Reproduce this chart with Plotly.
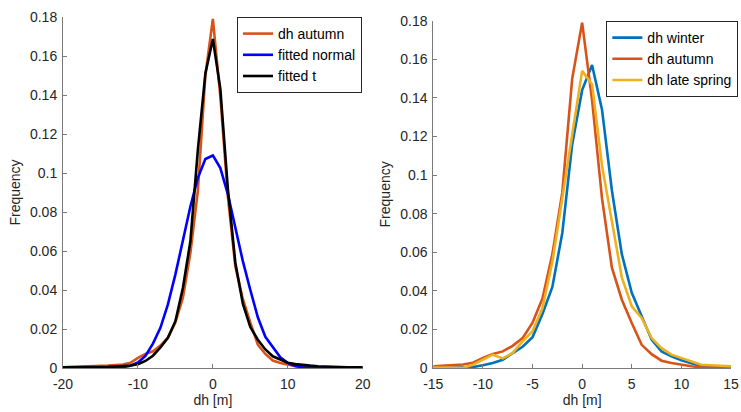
import plotly.graph_objects as go

# ---------------- data ----------------
x_left = list(range(-20, 21))
x_right = list(range(-15, 16))

# autumn histogram (shared by both panels), x = -20..20
autumn = [0.0003, 0.0004, 0.0005, 0.0006, 0.0008, 0.0009, 0.0012, 0.0015, 0.0018, 0.0027,
          0.0052, 0.0072, 0.0086, 0.0115, 0.0155, 0.0235, 0.036, 0.059, 0.091, 0.150,
          0.179,
          0.139, 0.088, 0.052, 0.0354, 0.0233, 0.012, 0.0072, 0.0038, 0.0026, 0.0017,
          0.0009, 0.0004, 0.0003, 0.0002, 0.0001, 0.0001, 0.0001, 0.0001, 0.0001, 0.0001]

# fitted normal, x = -20..20
fitted_normal = [0.0, 0.0, 0.0, 0.0, 0.0, 0.0, 0.0001, 0.0002, 0.0004, 0.0012,
                 0.0028, 0.0062, 0.0125, 0.0206, 0.0326, 0.048, 0.0654, 0.0828, 0.0975, 0.1072,
                 0.109,
                 0.1025, 0.0892, 0.0725, 0.0548, 0.040, 0.026, 0.016, 0.0105, 0.0055, 0.0025,
                 0.001, 0.0004, 0.0001, 0.0, 0.0, 0.0, 0.0, 0.0, 0.0, 0.0]

# fitted t, x = -20..20
fitted_t = [0.0003, 0.0003, 0.0004, 0.0004, 0.0005, 0.0005, 0.0006, 0.0008, 0.001, 0.0013,
            0.0019, 0.0036, 0.0063, 0.0105, 0.0155, 0.024, 0.041, 0.065, 0.112, 0.151,
            0.1687,
            0.143, 0.092, 0.054, 0.033, 0.021, 0.0145, 0.0095, 0.006, 0.0043, 0.0027,
            0.002, 0.0015, 0.0012, 0.0009, 0.0007, 0.0006, 0.0005, 0.0004, 0.0003, 0.0003]

# right panel, x = -15..15
winter = [0.0, 0.0001, 0.0002, 0.0003, 0.0005, 0.0014, 0.0026, 0.0043, 0.0078, 0.011,
          0.016, 0.028, 0.042, 0.070, 0.116, 0.144, 0.157, 0.134, 0.092, 0.059,
          0.039, 0.0267, 0.0147, 0.0086, 0.006, 0.004, 0.0026, 0.0009, 0.0006, 0.0004, 0.0003]
autumn_r = autumn[5:36]
late_spring = [0.0002, 0.0001, 0.0001, 0.0001, 0.0017, 0.0045, 0.0069, 0.005, 0.0078, 0.0138,
               0.019, 0.031, 0.055, 0.088, 0.120, 0.154, 0.147, 0.105, 0.076, 0.047,
               0.032, 0.0259, 0.0155, 0.0103, 0.0069, 0.0052, 0.0034, 0.0017, 0.0014, 0.0011, 0.0009]

y_ticks = [0, 0.02, 0.04, 0.06, 0.08, 0.1, 0.12, 0.14, 0.16, 0.18]
y_tick_text = ["0", "0.02", "0.04", "0.06", "0.08", "0.1", "0.12", "0.14", "0.16", "0.18"]
x_ticks_left = [-20, -10, 0, 10, 20]
x_ticks_right = [-15, -10, -5, 0, 5, 10, 15]

# ---------------- figure ----------------
C_AUT = "#D95319"
C_WIN = "#0072BD"
C_SPR = "#EDB120"
LW = 2.6

fig = go.Figure()
fig.add_trace(go.Scatter(x=x_left, y=autumn, mode="lines", name="dh autumn",
                         line=dict(color=C_AUT, width=LW), xaxis="x", yaxis="y", legend="legend"))
fig.add_trace(go.Scatter(x=x_left, y=fitted_normal, mode="lines", name="fitted normal",
                         line=dict(color="#0000FF", width=LW), xaxis="x", yaxis="y", legend="legend"))
fig.add_trace(go.Scatter(x=x_left, y=fitted_t, mode="lines", name="fitted t",
                         line=dict(color="#000000", width=LW), xaxis="x", yaxis="y", legend="legend"))

fig.add_trace(go.Scatter(x=x_right, y=winter, mode="lines", name="dh winter",
                         line=dict(color=C_WIN, width=LW), xaxis="x2", yaxis="y2", legend="legend2"))
fig.add_trace(go.Scatter(x=x_right, y=autumn_r, mode="lines", name="dh autumn",
                         line=dict(color=C_AUT, width=LW), xaxis="x2", yaxis="y2", legend="legend2"))
fig.add_trace(go.Scatter(x=x_right, y=late_spring, mode="lines", name="dh late spring",
                         line=dict(color=C_SPR, width=LW), xaxis="x2", yaxis="y2", legend="legend2"))

FONT = "Liberation Sans, Arial, Helvetica, sans-serif"
TXT = "#262626"
AX = "#7a7a7a"

common_x = dict(showline=True, linecolor=AX, linewidth=1, ticks="inside", ticklen=4,
                tickcolor=AX, showgrid=False, zeroline=False, mirror=False, automargin=False,
                ticklabelstandoff=3,
                tickfont=dict(size=14, color=TXT, family=FONT),
                title=dict(text="dh [m]", font=dict(size=14, color=TXT, family=FONT), standoff=1))
common_y = dict(showline=True, linecolor=AX, linewidth=1, ticks="inside", ticklen=4,
                tickcolor=AX, showgrid=False, zeroline=False, mirror=False, automargin=False,
                range=[0, 0.18], tickvals=y_ticks, ticktext=y_tick_text,
                ticklabelstandoff=2,
                tickfont=dict(size=14, color=TXT, family=FONT),
                title=dict(text="Frequency", font=dict(size=14, color=TXT, family=FONT), standoff=6))

legend_common = dict(font=dict(size=14, color="#000000", family=FONT), bgcolor="white",
                     bordercolor=TXT, borderwidth=1, yanchor="top",
                     tracegroupgap=0, itemwidth=30)

fig.update_layout(
    width=741, height=412,
    margin=dict(l=63, r=10, t=17, b=44, autoexpand=False),
    paper_bgcolor="white", plot_bgcolor="white",
    font=dict(family=FONT, color=TXT),
    xaxis=dict(common_x, domain=[0.0, 0.4487], range=[-20, 20],
               tickvals=x_ticks_left, ticktext=[str(v) for v in x_ticks_left], anchor="y"),
    yaxis=dict(common_y, domain=[0.0, 1.0], anchor="x"),
    xaxis2=dict(common_x, domain=[0.5543, 1.0], range=[-15, 15],
                tickvals=x_ticks_right, ticktext=[str(v) for v in x_ticks_right], anchor="y2"),
    yaxis2=dict(common_y, domain=[0.0, 0.9895], anchor="x2"),
    legend=dict(legend_common, x=0.2605, y=1.0, xanchor="left"),
    legend2=dict(legend_common, x=1.011, y=0.9886, xanchor="right"),
    showlegend=True,
)

# remove the default page margin so the 741x412 figure fills the window exactly
fig.write_html("out.html",
               config={"displayModeBar": False},
               post_script="document.body.style.margin='0';document.body.style.overflow='hidden';")
